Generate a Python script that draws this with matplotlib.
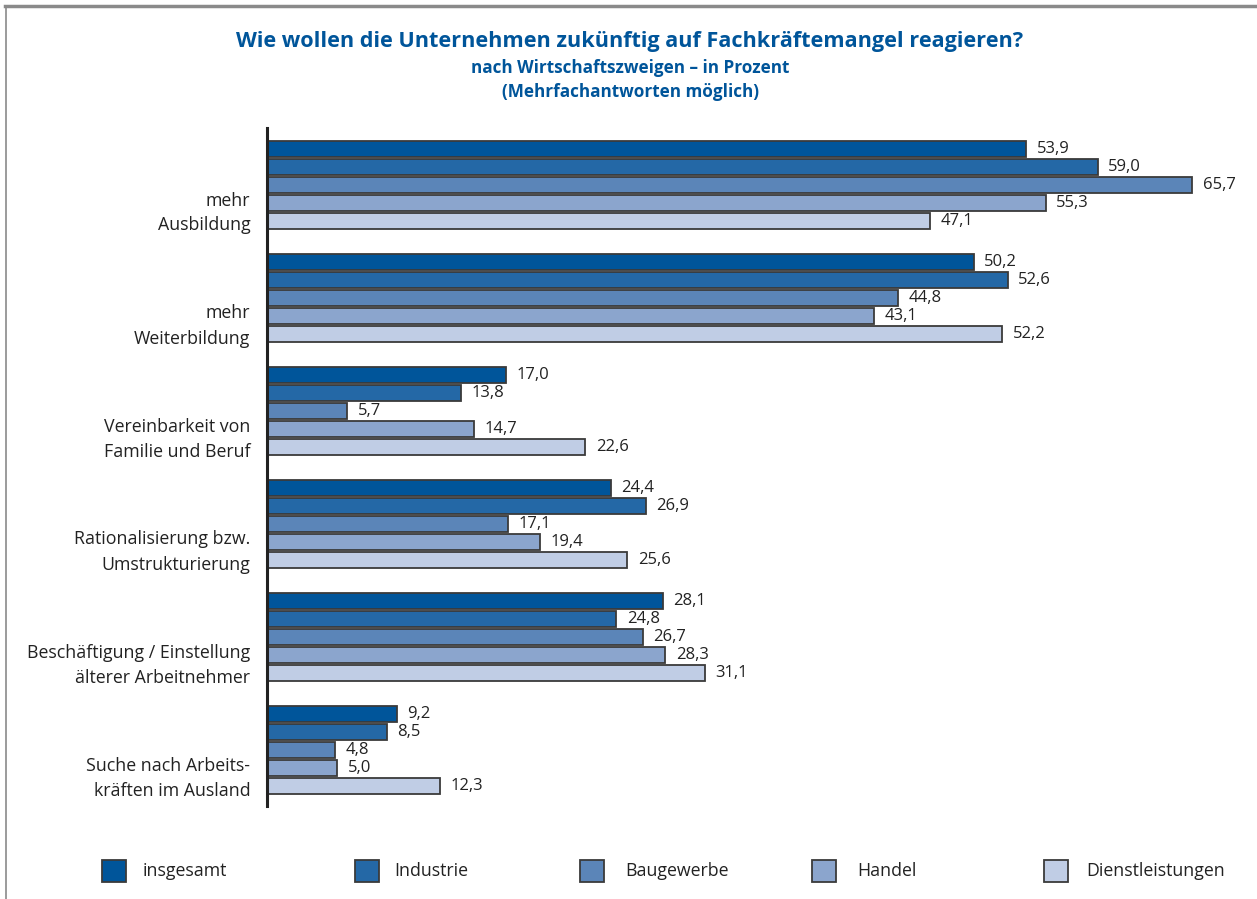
import matplotlib
matplotlib.use("Agg")
import matplotlib.pyplot as plt
from matplotlib.patches import Rectangle
from matplotlib.lines import Line2D
import numpy as np

plt.rcParams['font.family'] = ['Open Sans', 'DejaVu Sans']

categories = ["mehr\nAusbildung", "mehr\nWeiterbildung", "Vereinbarkeit von\nFamilie und Beruf",
              "Rationalisierung bzw.\nUmstrukturierung", "Beschäftigung / Einstellung\nälterer Arbeitnehmer",
              "Suche nach Arbeits-\nkräften im Ausland"]
series = ["insgesamt", "Industrie", "Baugewerbe", "Handel", "Dienstleistungen"]
insgesamt = [53.9, 50.2, 17.0, 24.4, 28.1, 9.2]
industrie = [59.0, 52.6, 13.8, 26.9, 24.8, 8.5]
baugewerbe = [65.7, 44.8, 5.7, 17.1, 26.7, 4.8]
handel = [55.3, 43.1, 14.7, 19.4, 28.3, 5.0]
dienstleistungen = [47.1, 52.2, 22.6, 25.6, 31.1, 12.3]
values = [insgesamt, industrie, baugewerbe, handel, dienstleistungen]
colors = ["#00559a", "#2468a6", "#5b85b8", "#8ba5cd", "#c0cde5"]

W, H = 1257, 899
fig = plt.figure(figsize=(W / 100, H / 100), dpi=100)

# axes placement in pixels
ax_left, ax_right = 267, 1252.6
ax_top, ax_bot = 128, 806
ax = fig.add_axes([ax_left / W, 1 - ax_bot / H, (ax_right - ax_left) / W, (ax_bot - ax_top) / H])

group_step = 113 / 18.0
n_groups = len(categories)
for si, (name, vals, col) in enumerate(zip(series, values, colors)):
    ys = np.arange(n_groups) * group_step + si
    ax.barh(ys, vals, height=0.9, color=col, edgecolor="#3a3a3a", linewidth=1.3, label=name)
    for y, v in zip(ys, vals):
        ax.text(v + 0.75, y, f"{v:.1f}".replace(".", ","), va="center", ha="left",
                fontsize=12, color="#222222")

ax.set_xlim(0, 70)
ax.set_ylim((806 - 149) / 18.0, (128 - 149) / 18.0)
label_pos = np.arange(n_groups) * group_step + 3.25
ax.set_yticks(label_pos)
ax.set_yticklabels(categories, fontsize=12.8, color="#222222", linespacing=1.5)
ax.tick_params(axis="y", length=0, pad=12)
ax.set_xticks([])
for s in ["top", "right", "bottom"]:
    ax.spines[s].set_visible(False)
ax.spines["left"].set_linewidth(2.2)
ax.spines["left"].set_color("#222222")

# titles
title_col = "#00559a"
fig.text(630 / W, 1 - 42 / H, "Wie wollen die Unternehmen zukünftig auf Fachkräftemangel reagieren?",
         ha="center", va="center", fontsize=15.6, fontweight="bold", color=title_col)
fig.text(630 / W, 1 - 68 / H, "nach Wirtschaftszweigen – in Prozent",
         ha="center", va="center", fontsize=12.3, fontweight="bold", color=title_col)
fig.text(630 / W, 1 - 92 / H, "(Mehrfachantworten möglich)",
         ha="center", va="center", fontsize=12.3, fontweight="bold", color=title_col)

# legend (manual placement)
sq_x = [102, 355, 580, 812, 1044]
tx_x = [143, 394, 625, 857, 1086]
ly = 871
for name, col, sx, tx in zip(series, colors, sq_x, tx_x):
    fig.add_artist(Rectangle((sx / W, 1 - (ly + 11) / H), 24 / W, 22 / H, transform=fig.transFigure,
                             facecolor=col, edgecolor="#3a3a3a", linewidth=1.3))
    fig.text(tx / W, 1 - ly / H, name, ha="left", va="center", fontsize=12.8, color="#222222")

# frame lines
fig.add_artist(Line2D([5 / W, 1], [1 - 6 / H, 1 - 6 / H], transform=fig.transFigure, color="#8a8a8a", linewidth=2.5))
fig.add_artist(Line2D([6 / W, 6 / W], [0, 1 - 6 / H], transform=fig.transFigure, color="#8a8a8a", linewidth=1.2))

fig.savefig("out.png", dpi=100, facecolor="white")
